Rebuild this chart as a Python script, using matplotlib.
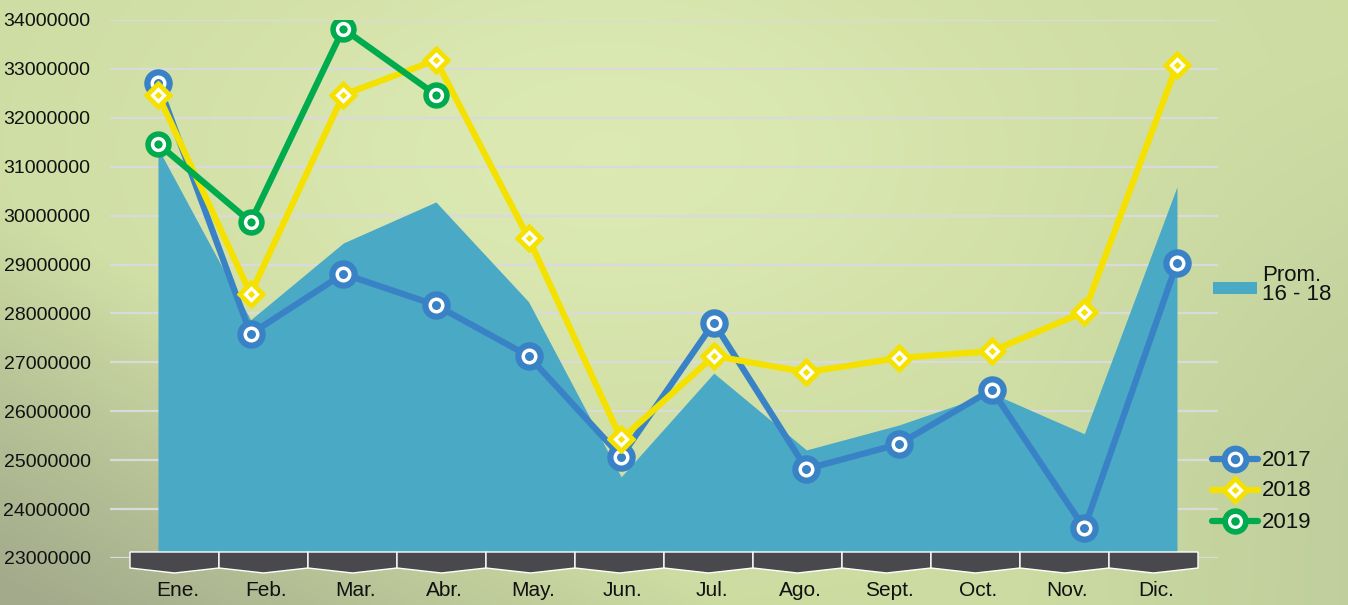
import numpy as np
import matplotlib.pyplot as plt
from matplotlib.patches import Polygon, Rectangle

# data
months = ['Ene.', 'Feb.', 'Mar.', 'Abr.', 'May.', 'Jun.', 'Jul.', 'Ago.',
          'Sept.', 'Oct.', 'Nov.', 'Dic.']
prom_16_18 = [31380000, 27870000, 29440000, 30280000, 28240000, 24660000,
              26780000, 25210000, 25720000, 26370000, 25540000, 30590000]
y2017 = [32710000, 27580000, 28810000, 28170000, 27130000, 25070000,
         27810000, 24820000, 25330000, 26440000, 23610000, 29030000]
y2018 = [32470000, 28400000, 32470000, 33180000, 29540000, 25430000,
         27130000, 26800000, 27090000, 27230000, 28030000, 33080000]
y2019 = [31470000, 29870000, 33820000, 32470000]
yticks = list(range(23000000, 34000001, 1000000))

C_AREA = '#4aa9c5'
C_2017 = '#3a82c6'
C_2018 = '#f5e100'
C_2019 = '#00ab4e'

plt.rcParams['font.family'] = ['Liberation Sans', 'DejaVu Sans']
TXT = '#111111'

W, H = 1348, 605
fig = plt.figure(figsize=(W / 100, H / 100), dpi=100)

# blurred green photo background, roughly
bg = fig.add_axes([0, 0, 1, 1], zorder=0)
yy, xx = np.mgrid[0:H, 0:W] / np.array([H, W])[:, None, None]
base = np.array([0.80, 0.86, 0.63])
light = np.array([0.87, 0.92, 0.71])
dark = np.array([0.64, 0.67, 0.55])
grey = np.array([0.70, 0.76, 0.60])
t_light = np.exp(-(((xx - 0.45) / 0.35) ** 2 + ((yy - 0.25) / 0.45) ** 2))
t_dark = np.clip((yy - 0.45) * 1.6 - (xx - 0.1) * 2.0, 0, 1)
t_grey = np.clip((xx - 0.75) * 2.5, 0, 1) * np.clip((yy - 0.1) * 1.5, 0, 1)
img = base[None, None, :] * np.ones((H, W, 1))
img = img + (light - base) * t_light[..., None] * 0.9
img = img + (grey - img) * t_grey[..., None] * 0.8
img = img + (dark - img) * t_dark[..., None]
bg.imshow(np.clip(img, 0, 1), aspect='auto', extent=[0, W, H, 0])
bg.set_xlim(0, W)
bg.set_ylim(H, 0)
bg.axis('off')

# main chart
ax = fig.add_axes([110 / W, 47 / H, 1108 / W, 538 / H], zorder=1)
ax.patch.set_visible(False)
x = np.arange(len(months))
ax.fill_between(x, prom_16_18, yticks[0], color=C_AREA, lw=0, zorder=2)

ax.plot(x, y2017, color=C_2017, lw=4.5, marker='o', ms=19.5, mfc=C_2017, mec=C_2017, zorder=3)
ax.plot(x, y2017, ls='none', marker='o', ms=9, mfc=C_2017, mec='white', mew=2.5, zorder=3)
ax.plot(x, y2018, color=C_2018, lw=4.5, marker='D', ms=14.5, mfc=C_2018, mec=C_2018, zorder=4)
ax.plot(x, y2018, ls='none', marker='D', ms=6.5, mfc=C_2018, mec='white', mew=2.3, zorder=4)
x19 = x[:len(y2019)]
ax.plot(x19, y2019, color=C_2019, lw=4.5, marker='o', ms=18, mfc=C_2019, mec=C_2019, zorder=5)
ax.plot(x19, y2019, ls='none', marker='o', ms=8.5, mfc=C_2019, mec='white', mew=2.5, zorder=5)

ax.set_xlim(-0.518, 11.443)
ax.set_ylim(23000000, 34000000)
ax.set_yticks(yticks)
ax.set_yticklabels([str(v) for v in yticks], fontsize=14, color=TXT)
ax.set_xticks([])
ax.yaxis.grid(True, color='#dadada', lw=1.6)
ax.set_axisbelow(True)
ax.tick_params(axis='y', length=0, pad=14)
for s in ax.spines.values():
    s.set_visible(False)

# overlay: month strip and legend
ov = fig.add_axes([0, 0, 1, 1], zorder=2)
ov.set_xlim(0, W)
ov.set_ylim(H, 0)
ov.axis('off')
ov.patch.set_visible(False)
bw = 89
for i, m in enumerate(months):
    x0 = 130 + bw * i
    x1 = x0 + bw
    ov.add_patch(Polygon([(x0, 552), (x1, 552), (x1, 568), ((x0 + x1) / 2, 573), (x0, 568)],
                         closed=True, fc='#49484c', ec='white', lw=1))
    ov.text((x0 + x1) / 2 + 3, 591, m, ha='center', va='center', fontsize=15, color=TXT)

ov.add_patch(Rectangle((1213, 282), 44, 12, fc=C_AREA, ec='none'))
ov.text(1262, 265, 'Prom.\n16 - 18', ha='left', va='top', fontsize=16,
        linespacing=0.85, color=TXT)

entries = [('2017', C_2017, 'o', 19, 9, 459), ('2018', C_2018, 'D', 14, 6.5, 490),
           ('2019', C_2019, 'o', 18, 8.5, 521)]
for label, c, mk, ms_out, ms_in, yp in entries:
    ov.plot([1212, 1258], [yp, yp], color=c, lw=4.5, solid_capstyle='round')
    ov.plot([1235], [yp], marker=mk, ms=ms_out, mfc=c, mec=c, ls='none')
    ov.plot([1235], [yp], marker=mk, ms=ms_in, mfc=c, mec='white', mew=2.3, ls='none')
    ov.text(1262, yp + 1, label, ha='left', va='center', fontsize=16, color=TXT)

fig.savefig('out.png', dpi=100)
